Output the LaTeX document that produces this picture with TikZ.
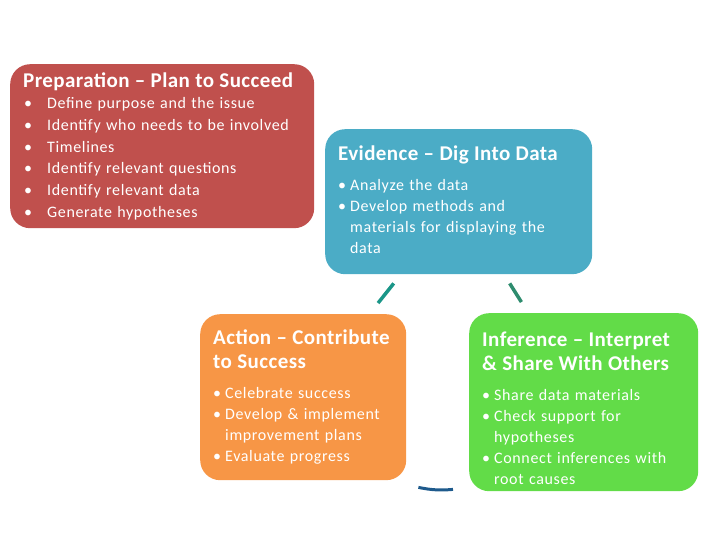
\documentclass[tikz,border=0pt]{standalone}
\usepackage{fontspec}
\setmainfont{Carlito}
\definecolor{prepred}{RGB}{192,80,77}
\definecolor{evidblue}{RGB}{75,172,198}
\definecolor{actorange}{RGB}{247,150,70}
\definecolor{infergreen}{RGB}{98,220,72}
\definecolor{linkteal}{RGB}{26,150,136}
\definecolor{linkgreen}{RGB}{46,140,110}
\definecolor{linkblue}{RGB}{30,90,140}
\setlength{\parindent}{0pt}
\newcommand{\tabbullet}{\makebox[24pt][l]{\hspace{1pt}\textbullet}}
\newcommand{\pbullet}{\makebox[12pt][l]{\textbullet}}
\newcommand{\pindent}{\hspace*{12pt}}
\newcommand{\stagetitle}[1]{{\fontsize{21}{24}\selectfont\addfontfeatures{LetterSpace=2}\bfseries #1\par}}

\begin{document}
\begin{tikzpicture}[x=1pt,y=-1pt,
    stage/.style={rectangle,rounded corners=20pt,anchor=north west,inner xsep=13pt,inner ysep=0pt,
      text=white,align=left,font=\fontsize{16}{21}\selectfont\addfontfeatures{LetterSpace=4}},
    link/.style={line width=3.5pt}]
  \useasboundingbox (0,0) rectangle (720,540);
  \node[stage,fill=prepred,text width=278pt,minimum height=164pt,
    font=\fontsize{16}{21.7}\selectfont\addfontfeatures{LetterSpace=4}] (prep) at (10,64) {%
    \stagetitle{Preparation -- Plan to Succeed}
    \tabbullet Define purpose and the issue\\
    \tabbullet Identify who needs to be involved\\
    \tabbullet Timelines\\
    \tabbullet Identify relevant questions\\
    \tabbullet Identify relevant data\\
    \tabbullet Generate hypotheses};
  \node[stage,fill=evidblue,text width=241pt,minimum height=145pt] (evid) at (325,129) {%
    \stagetitle{Evidence -- Dig Into Data}\vspace{9pt}
    \pbullet Analyze the data\\
    \pbullet Develop methods and\\
    \pindent materials for displaying the\\
    \pindent data\vspace*{4pt}};
  \node[stage,fill=actorange,text width=180pt,minimum height=166pt] (action) at (200,314) {%
    \stagetitle{Action -- Contribute\\to Success}\vspace{9pt}
    \pbullet Celebrate success\\
    \pbullet Develop \& implement\\
    \pindent improvement plans\\
    \pbullet Evaluate progress};
  \node[stage,fill=infergreen,text width=203pt,minimum height=178pt] (infer) at (469,313) {%
    \stagetitle{Inference -- Interpret\\\& Share With Others}\vspace{9pt}
    \pbullet Share data materials\\
    \pbullet Check support for\\
    \pindent hypotheses\\
    \pbullet Connect inferences with\\
    \pindent root causes\vspace*{-12pt}};
  \draw[link,linkteal,shorten <=11.5pt,shorten >=14pt] (evid) -- (action);
  \draw[link,linkgreen,shorten <=10.6pt,shorten >=12.9pt] (evid) -- (infer);
  \draw[link,linkblue,line width=3pt] ([xshift=12pt,yshift=-7pt]action.south east)
    to[bend right=8] ([xshift=-16pt,yshift=2pt]infer.south west);
\end{tikzpicture}
\end{document}
